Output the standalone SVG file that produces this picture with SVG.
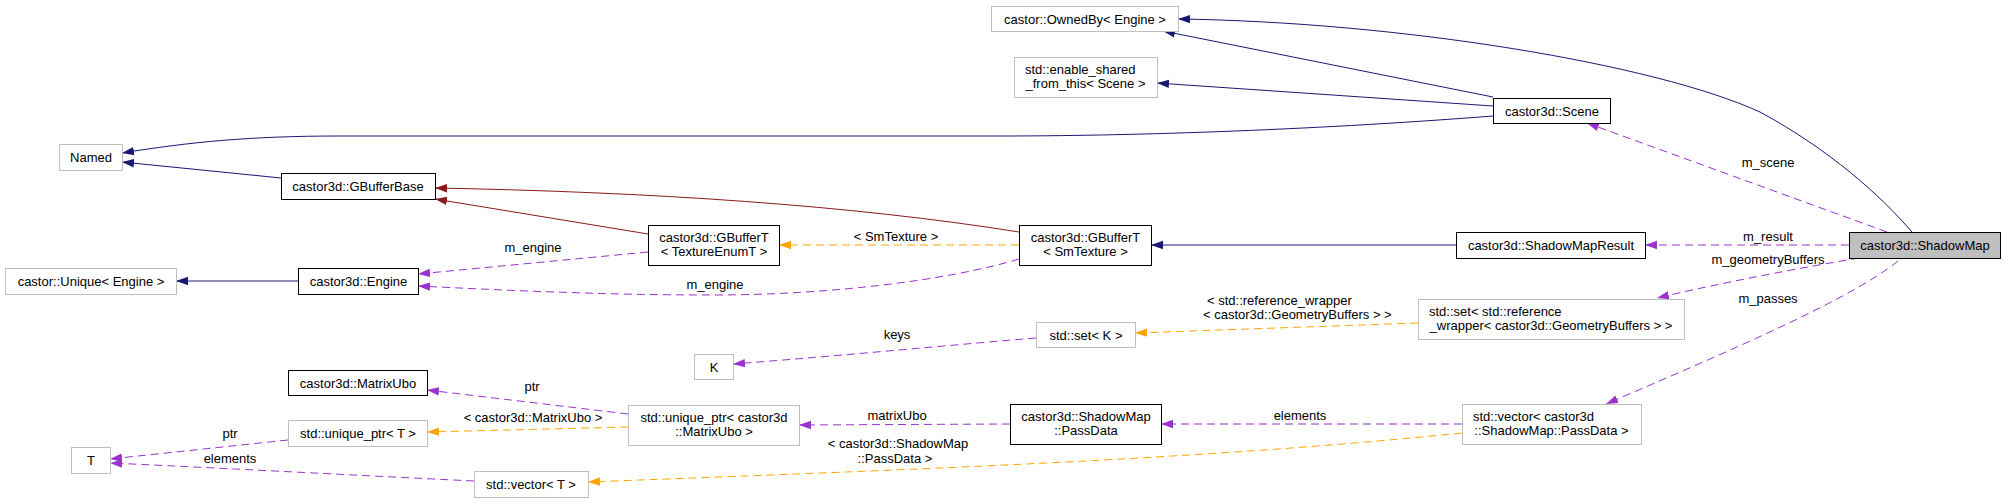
<svg xmlns="http://www.w3.org/2000/svg" width="2005" height="503" viewBox="0 0 2005 503">
<style>
text{font-family:"Liberation Sans",Arial,sans-serif;font-size:13px;fill:#000}
.c{text-anchor:middle}
.s{text-anchor:start}
rect.n{fill:#fff;stroke:#000;stroke-width:1}
rect.u{fill:#fff;stroke:#bfbfbf;stroke-width:1}
rect.h{fill:#bfbfbf;stroke:#000;stroke-width:1}
.e{fill:none;stroke-width:1}
.nv{stroke:#191970;marker-end:url(#aN)}
.rd{stroke:#8b1a1a;marker-end:url(#aR)}
.pu{stroke:#9a32cd;stroke-dasharray:8,5;marker-end:url(#aP)}
.or{stroke:#ffa500;stroke-dasharray:8,5;marker-end:url(#aO)}
</style>
<defs>
<marker id="aN" markerUnits="userSpaceOnUse" markerWidth="14" markerHeight="10" refX="12" refY="5" orient="auto"><path d="M0,0.8 L12,5 L0,9.2 z" fill="#191970"/></marker>
<marker id="aR" markerUnits="userSpaceOnUse" markerWidth="14" markerHeight="10" refX="12" refY="5" orient="auto"><path d="M0,0.8 L12,5 L0,9.2 z" fill="#8b1a1a"/></marker>
<marker id="aP" markerUnits="userSpaceOnUse" markerWidth="14" markerHeight="10" refX="12" refY="5" orient="auto"><path d="M0,0.8 L12,5 L0,9.2 z" fill="#9a32cd"/></marker>
<marker id="aO" markerUnits="userSpaceOnUse" markerWidth="14" markerHeight="10" refX="12" refY="5" orient="auto"><path d="M0,0.8 L12,5 L0,9.2 z" fill="#ffa500"/></marker>
</defs>
<rect width="2005" height="503" fill="#fff"/>
<g id="edges">
<path class="e nv" d="M1912,232 C1880,195 1830,150 1760,112 C1655,64 1400,22 1178,19"/>
<path class="e nv" d="M1493,97 L1163,31"/>
<path class="e nv" d="M1493,106 L1157,83"/>
<path class="e nv" d="M1493,116 C1300,131 1120,136 1000,136 L340,136 C250,136 190,142 122,153"/>
<path class="e nv" d="M281,178 L122,162"/>
<path class="e rd" d="M648,234 L435,199"/>
<path class="e rd" d="M1019,232 C850,205 650,192 435,188"/>
<path class="e or" d="M1019,245 L779,245"/>
<text class="c" x="896" y="241">&lt; SmTexture &gt;</text>
<path class="e nv" d="M1456,245 L1151,245"/>
<path class="e nv" d="M298,281 L176,281"/>
<path class="e pu" d="M648,252 L418,274"/>
<text class="c" x="533" y="252">m_engine</text>
<path class="e pu" d="M1019,259 C950,280 830,295 713,295 C600,295 500,290 418,286"/>
<text class="c" x="715" y="289">m_engine</text>
<path class="e pu" d="M1887,232 L1587,123"/>
<text class="c" x="1768" y="167">m_scene</text>
<path class="e pu" d="M1849,245 L1645,245"/>
<text class="c" x="1768" y="241">m_result</text>
<path class="e pu" d="M1859,258 C1800,268 1720,283 1657,298"/>
<text class="c" x="1768" y="264">m_geometryBuffers</text>
<path class="e pu" d="M1898,261 C1850,300 1720,355 1606,404"/>
<text class="c" x="1768" y="303">m_passes</text>
<path class="e or" d="M1418,323 L1135,333"/>
<text class="s" x="1207" y="305">&lt; std::reference_wrapper</text>
<text class="s" x="1203" y="319">&lt; castor3d::GeometryBuffers &gt; &gt;</text>
<path class="e pu" d="M1036,338 C950,345 850,355 733,364"/>
<text class="c" x="897" y="339">keys</text>
<path class="e pu" d="M1010,424 L799,425"/>
<text class="c" x="897" y="420">matrixUbo</text>
<path class="e pu" d="M1462,424 L1161,424"/>
<text class="c" x="1300" y="420">elements</text>
<path class="e or" d="M1462,433 C1200,460 900,470 588,482"/>
<text class="c" x="898" y="448">&lt; castor3d::ShadowMap</text>
<text class="c" x="895" y="463">::PassData &gt;</text>
<path class="e pu" d="M628,414 L427,390"/>
<text class="c" x="532" y="391">ptr</text>
<path class="e or" d="M628,427 L427,432"/>
<text class="c" x="533" y="422">&lt; castor3d::MatrixUbo &gt;</text>
<path class="e pu" d="M288,440 L110,459"/>
<text class="c" x="230" y="438">ptr</text>
<path class="e pu" d="M474,481 C350,475 200,467 110,463"/>
<text class="c" x="230" y="463">elements</text>
</g>
<g id="node-ownedby"><rect class="u" x="991.5" y="6.5" width="187" height="25"/><text class="c" x="1085" y="23.5">castor::OwnedBy&lt; Engine &gt;</text></g>
<g id="node-enable-shared"><rect class="u" x="1014.5" y="57.5" width="143" height="40"/><text class="s" x="1025" y="73.5">std::enable_shared</text><text class="c" x="1085.5" y="87.5">_from_this&lt; Scene &gt;</text></g>
<g id="node-scene"><rect class="n" x="1493.5" y="98.5" width="117" height="25"/><text class="c" x="1552" y="115.5">castor3d::Scene</text></g>
<g id="node-named"><rect class="u" x="59.5" y="144.5" width="63" height="26"/><text class="c" x="91" y="162">Named</text></g>
<g id="node-gbufferbase"><rect class="n" x="281.5" y="173.5" width="154" height="26"/><text class="c" x="358" y="191">castor3d::GBufferBase</text></g>
<g id="node-gbuffert-te"><rect class="n" x="648.5" y="225.5" width="131" height="40"/><text class="c" x="714" y="241.5">castor3d::GBufferT</text><text class="c" x="714" y="255.5">&lt; TextureEnumT &gt;</text></g>
<g id="node-gbuffert-sm"><rect class="n" x="1019.5" y="225.5" width="132" height="40"/><text class="c" x="1085.5" y="241.5">castor3d::GBufferT</text><text class="c" x="1085.5" y="255.5">&lt; SmTexture &gt;</text></g>
<g id="node-shadowmapresult"><rect class="n" x="1456.5" y="232.5" width="189" height="26"/><text class="c" x="1551" y="250">castor3d::ShadowMapResult</text></g>
<g id="node-shadowmap"><rect class="h" x="1849.5" y="232.5" width="151" height="26"/><text class="c" x="1925" y="250">castor3d::ShadowMap</text></g>
<g id="node-unique"><rect class="u" x="5.5" y="268.5" width="171" height="26"/><text class="c" x="91" y="286">castor::Unique&lt; Engine &gt;</text></g>
<g id="node-engine"><rect class="n" x="298.5" y="268.5" width="120" height="26"/><text class="c" x="358.5" y="286">castor3d::Engine</text></g>
<g id="node-set-ref"><rect class="u" x="1418.5" y="299.5" width="266" height="40"/><text class="s" x="1429" y="315.5">std::set&lt; std::reference</text><text class="c" x="1551" y="329.5">_wrapper&lt; castor3d::GeometryBuffers &gt; &gt;</text></g>
<g id="node-set-k"><rect class="u" x="1036.5" y="322.5" width="99" height="25"/><text class="c" x="1086" y="339.5">std::set&lt; K &gt;</text></g>
<g id="node-k"><rect class="u" x="694.5" y="354.5" width="39" height="25"/><text class="c" x="714" y="371.5">K</text></g>
<g id="node-matrixubo"><rect class="n" x="288.5" y="370.5" width="139" height="25"/><text class="c" x="358" y="387.5">castor3d::MatrixUbo</text></g>
<g id="node-unique-ptr-mu"><rect class="u" x="628.5" y="405.5" width="171" height="40"/><text class="c" x="714" y="421.5">std::unique_ptr&lt; castor3d</text><text class="c" x="714" y="435.5">::MatrixUbo &gt;</text></g>
<g id="node-passdata"><rect class="n" x="1010.5" y="404.5" width="151" height="40"/><text class="c" x="1086" y="420.5">castor3d::ShadowMap</text><text class="c" x="1086" y="434.5">::PassData</text></g>
<g id="node-vector-pd"><rect class="u" x="1462.5" y="404.5" width="179" height="40"/><text class="s" x="1473" y="420.5">std::vector&lt; castor3d</text><text class="c" x="1551.5" y="434.5">::ShadowMap::PassData &gt;</text></g>
<g id="node-unique-ptr-t"><rect class="u" x="288.5" y="420.5" width="139" height="26"/><text class="c" x="358" y="438">std::unique_ptr&lt; T &gt;</text></g>
<g id="node-t"><rect class="u" x="71.5" y="447.5" width="39" height="26"/><text class="c" x="91" y="465">T</text></g>
<g id="node-vector-t"><rect class="u" x="474.5" y="471.5" width="114" height="26"/><text class="c" x="531" y="489">std::vector&lt; T &gt;</text></g>
</svg>
